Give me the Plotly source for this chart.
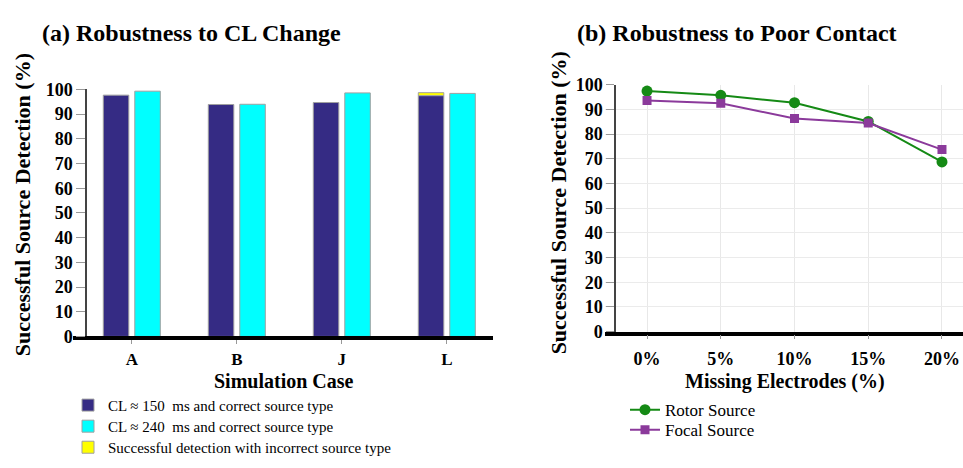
import plotly.graph_objects as go

# ---------------- data ----------------
cases = ["A", "B", "J", "L"]
cl150 = [97.7, 93.9, 94.7, 97.5]
cl240 = [99.3, 94.0, 98.6, 98.4]
incorrect_extra = [None, None, None, 1.2]

missing = ["0%", "5%", "10%", "15%", "20%"]
rotor = [97.4, 95.7, 92.7, 85.1, 68.7]
focal = [93.6, 92.5, 86.3, 84.5, 73.7]

yticks = list(range(0, 101, 10))

# ---------------- style ----------------
SERIF = "Liberation Serif, Times New Roman, serif"
W, H = 963, 468
NAVY = "#352b84"
CYAN = "#00ffff"
YELLOW = "#ffff00"
GREEN = "#158a15"
PURPLE = "#8b3a9b"


def px(x):
    return x / W


def py(y):
    return 1 - y / H


fig = go.Figure()

fig.add_trace(go.Bar(
    x=cases, y=cl150, name="CL \u2248 150\u00a0 ms and correct source type",
    marker=dict(color=NAVY, line=dict(color="#a0a0a0", width=1)),
    offsetgroup="a", xaxis="x", yaxis="y", legend="legend",
))
fig.add_trace(go.Bar(
    x=cases, y=cl240, name="CL \u2248 240\u00a0 ms and correct source type",
    marker=dict(color=CYAN, line=dict(color="#a0a0a0", width=1)),
    offsetgroup="b", xaxis="x", yaxis="y", legend="legend2",
))
fig.add_trace(go.Bar(
    x=cases, y=incorrect_extra, base=cl150,
    name="Successful detection with incorrect source type",
    marker=dict(color=YELLOW, line=dict(color="#a0a0a0", width=1)),
    offsetgroup="a", xaxis="x", yaxis="y", legend="legend3",
))

fig.add_trace(go.Scatter(
    x=missing, y=rotor, name="Rotor Source", mode="lines+markers",
    line=dict(color=GREEN, width=2),
    marker=dict(color=GREEN, size=11, symbol="circle"),
    xaxis="x2", yaxis="y2", legend="legend4",
))
fig.add_trace(go.Scatter(
    x=missing, y=focal, name="Focal Source", mode="lines+markers",
    line=dict(color=PURPLE, width=2),
    marker=dict(color=PURPLE, size=9, symbol="square"),
    xaxis="x2", yaxis="y2", legend="legend5",
))

tickfont_y = dict(family=SERIF, size=18, color="black", weight="bold")


def leg(x, y, size):
    return dict(
        x=px(x), y=py(y), xanchor="left", yanchor="middle",
        font=dict(family=SERIF, size=size, color="black"),
        bgcolor="rgba(0,0,0,0)", borderwidth=0,
    )


fig.update_layout(
    width=W, height=H,
    margin=dict(l=0, r=0, t=0, b=0),
    paper_bgcolor="white", plot_bgcolor="white",
    barmode="group", bargap=0.4, bargroupgap=0.19,
    font=dict(family=SERIF, color="black"),
    xaxis=dict(
        domain=[px(73), px(493)], anchor="y", type="category",
        range=[-0.56, 3.44], showline=True, linecolor="black", linewidth=3.5,
        ticks="outside", ticklen=4, tickcolor="#999", tickwidth=1,
        tickfont=dict(family=SERIF, size=17, color="black", weight="bold"),
        showgrid=False, zeroline=False,
    ),
    yaxis=dict(
        domain=[py(341), py(83)], anchor="free", position=px(86),
        range=[0, 100], tickvals=yticks, showline=True, linecolor="#444",
        linewidth=1.5, ticks="outside", ticklen=9, tickcolor="#999",
        tickfont=tickfont_y, showgrid=False, zeroline=False,
    ),
    xaxis2=dict(
        domain=[px(605), 1.0], anchor="y2", type="category",
        range=[-0.57, 4.285], showline=True, linecolor="black", linewidth=3.5,
        ticks="outside", ticklen=4, tickcolor="#999", tickwidth=1,
        ticklabelstandoff=4,
        tickfont=dict(family=SERIF, size=18, color="black", weight="bold"),
        showgrid=True, gridcolor="#e8e8e8", gridwidth=1, zeroline=False,
    ),
    yaxis2=dict(
        domain=[py(336), py(78)], anchor="free", position=px(615),
        range=[0, 100], tickvals=yticks, showline=True, linecolor="#444",
        linewidth=1.5, ticks="outside", ticklen=8, tickcolor="#999",
        tickfont=tickfont_y, showgrid=True, gridcolor="#ebebeb",
        zeroline=False,
    ),
    legend=leg(68, 413, 15),
    legend2=leg(68, 435, 15),
    legend3=leg(68, 457, 15),
    legend4=leg(625, 418, 17),
    legend5=leg(625, 439, 17),
    showlegend=True,
)

ann_font_big = dict(family=SERIF, size=24, color="black", weight="bold")
ann_font_axis = dict(family=SERIF, size=20, color="black", weight="bold")
ann_font_ytitle = dict(family=SERIF, size=22, color="black", weight="bold")

annotations = [
    dict(text="(a) Robustness to CL Change", x=px(40), y=py(24),
         xanchor="left", yanchor="middle", font=ann_font_big),
    dict(text="(b) Robustness to Poor Contact", x=px(575), y=py(24),
         xanchor="left", yanchor="middle", font=ann_font_big),
    dict(text="Simulation Case", x=px(284), y=py(388),
         xanchor="center", yanchor="middle", font=ann_font_axis),
    dict(text="Missing Electrodes (%)", x=px(785), y=py(388),
         xanchor="center", yanchor="middle", font=ann_font_axis),
    dict(text="Successful Source Detection (%)", x=px(22), y=py(204),
         xanchor="center", yanchor="middle", textangle=-90,
         font=ann_font_ytitle),
    dict(text="Successful Source Detection (%)", x=px(558), y=py(202),
         xanchor="center", yanchor="middle", textangle=-90,
         font=ann_font_ytitle),
]
for a in annotations:
    a.update(xref="paper", yref="paper", showarrow=False)
fig.update_layout(annotations=annotations)

fig.write_html("out.html")
